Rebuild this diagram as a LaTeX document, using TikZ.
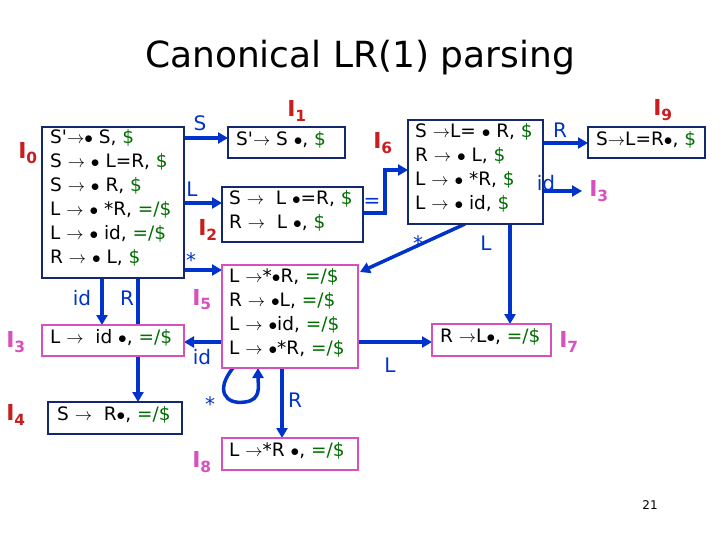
\documentclass[tikz,border=0pt]{standalone}
\usepackage{fontspec}
\setmainfont{DejaVu Sans}
\usetikzlibrary{arrows.meta}
\definecolor{eb}{RGB}{0,51,204}
\definecolor{bx}{RGB}{20,40,110}
\definecolor{pk}{RGB}{214,80,190}
\definecolor{rd}{RGB}{200,30,30}
\definecolor{gr}{RGB}{0,110,0}
\newcommand{\ra}{$\rightarrow$}
\newcommand{\dt}{$\bullet$}
\newcommand{\gd}[1]{\textcolor{gr}{#1}}
\newcommand{\ap}{\textquotesingle}
\begin{document}
\begin{tikzpicture}[x=1pt,y=-1pt,
  bb/.style={draw=bx,line width=1.2pt,inner sep=0pt},
  pb/.style={draw=pk,line width=1.2pt,inner sep=0pt},
  tx/.style={anchor=north west,align=left,inner sep=0pt,font=\fontsize{18.5}{24}\selectfont},
  lb/.style={font=\fontsize{20}{22}\selectfont,text=eb},
  il/.style={font=\fontsize{22}{24}\selectfont\rmfamily\bfseries},
  ed/.style={draw=eb,line width=3.5pt,-{Triangle[length=10pt,width=11pt]}}]
\useasboundingbox (0,0) rectangle (720,540);
\fill[white] (0,0) rectangle (720,540);
\node (title) at (360,58) {\fontsize{36}{40}\selectfont Canonical LR(1) parsing};
\node[font=\fontsize{12}{14}\selectfont\rmfamily] (pg) at (650,505) {21};
% edges behind boxes
\coordinate (r0) at (138,278); \coordinate (r4) at (138,402);
\draw[ed] (r0) -- (r4);
\draw[ed] (184,138) -- (228,138);
\draw[ed] (184,203) -- (222,203);
\draw[ed] (184,270) -- (222,270);
\draw[ed] (102,278) -- (102,325);
\draw[ed] (222,342) -- (184,342);
\draw[ed] (233,368) .. controls (215,390) and (225,405) .. (245,402) .. controls (262,400) and (258,385) .. (258,368);
\draw[ed] (282,368) -- (282,438);
\draw[ed] (363,213) -- (385,213) -- (385,170) -- (408,170);
\draw[ed] (543,143) -- (588,143);
\draw[ed] (543,191) -- (582,191);
\draw[ed] (465,224) -- (360,272);
\draw[ed] (510,224) -- (510,324);
\draw[ed] (358,342) -- (432,342);
% boxes
\draw[bb,fill=white] (42,127) rectangle (184,278);
\node[tx] (i0) at (50,129) {S\ap\ra\dt\ S, \gd{\$}\\S \ra\ \dt\ L=R, \gd{\$}\\S \ra\ \dt\ R, \gd{\$}\\L \ra\ \dt\ *R, \gd{=/\$}\\L \ra\ \dt\ id, \gd{=/\$}\\R \ra\ \dt\ L, \gd{\$}};
\draw[bb,fill=white] (228,127) rectangle (345,158);
\node[tx] (i1) at (236,131) {S\ap\ra\ S \dt, \gd{\$}};
\draw[bb,fill=white] (222,187) rectangle (363,242);
\node[tx] (i2) at (229,190) {S \ra\ \ L \dt=R, \gd{\$}\\R \ra\ \ L \dt, \gd{\$}};
\draw[pb,fill=white] (222,265) rectangle (358,368);
\node[tx] (i5) at (229,268) {L \ra*\dt R, \gd{=/\$}\\R \ra\ \dt L, \gd{=/\$}\\L \ra\ \dt id, \gd{=/\$}\\L \ra\ \dt*R, \gd{=/\$}};
\draw[pb,fill=white] (42,325) rectangle (184,356);
\node[tx] (i3) at (50,329) {L \ra\ \ id \dt, \gd{=/\$}};
\draw[bb,fill=white] (48,402) rectangle (182,434);
\node[tx] (i4) at (57,406) {S \ra\ \ R\dt, \gd{=/\$}};
\draw[pb,fill=white] (222,438) rectangle (358,470);
\node[tx] (i8) at (229,442) {L \ra*R \dt, \gd{=/\$}};
\draw[bb,fill=white] (408,120) rectangle (543,224);
\node[tx] (i6) at (415,123) {S \ra L= \dt\ R, \gd{\$}\\R \ra\ \dt\ L, \gd{\$}\\L \ra\ \dt\ *R, \gd{\$}\\L \ra\ \dt\ id, \gd{\$}};
\draw[bb,fill=white] (588,127) rectangle (705,158);
\node[tx] (i9) at (596,131) {S\ra L=R\dt, \gd{\$}};
\draw[pb,fill=white] (432,324) rectangle (551,356);
\node[tx] (i7) at (440,328) {R \ra L\dt, \gd{=/\$}};
% state labels
\node[il,text=rd] (l0) at (28,153) {I\textsubscript{0}};
\node[il,text=rd] (l1) at (297,111) {I\textsubscript{1}};
\node[il,text=rd] (l2) at (208,230) {I\textsubscript{2}};
\node[il,text=pk] (l5) at (202,300) {I\textsubscript{5}};
\node[il,text=pk] (l3) at (16,342) {I\textsubscript{3}};
\node[il,text=rd] (l4) at (16,415) {I\textsubscript{4}};
\node[il,text=pk] (l8) at (202,462) {I\textsubscript{8}};
\node[il,text=rd] (l6) at (383,143) {I\textsubscript{6}};
\node[il,text=rd] (l9) at (663,110) {I\textsubscript{9}};
\node[il,text=pk] (l3b) at (599,191) {I\textsubscript{3}};
\node[il,text=pk] (l7) at (569,342) {I\textsubscript{7}};
% edge labels
\node[lb] at (200,123) {S};
\node[lb] at (192,189) {L};
\node[lb] at (191,260) {*};
\node[lb] at (82,298) {id};
\node[lb] at (127,298) {R};
\node[lb] at (202,357) {id};
\node[lb] at (210,404) {*};
\node[lb] at (295,400) {R};
\node[lb] at (372,203) {=};
\node[lb] at (560,130) {R};
\node[lb] at (546,183) {id};
\node[lb] at (418,243) {*};
\node[lb] at (486,243) {L};
\node[lb] at (390,365) {L};
\end{tikzpicture}
\end{document}
